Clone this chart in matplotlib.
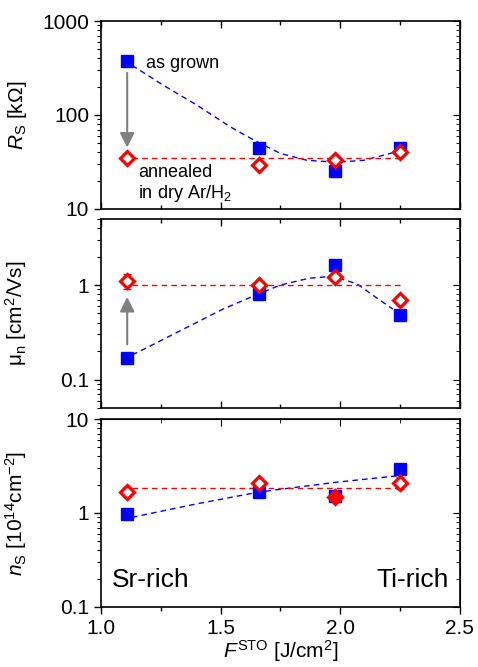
import matplotlib
matplotlib.use("Agg")
import matplotlib.pyplot as plt
from matplotlib.ticker import LogLocator, FixedLocator, NullFormatter, MultipleLocator

plt.rcParams["font.family"] = ["Liberation Sans", "DejaVu Sans"]
plt.rcParams["mathtext.fontset"] = "custom"
plt.rcParams["mathtext.rm"] = "Liberation Sans"
plt.rcParams["mathtext.it"] = "Liberation Sans:italic"

# fluence values of the four samples
fluence = [1.11, 1.66, 1.98, 2.25]

# sheet resistance [kOhm]
rs_grown = [375, 45, 25.5, 45]
rs_annealed = [35, 29.5, 33, 40.5]
rs_annealed_level = 35

# mobility [cm^2/Vs]
mu_grown = [0.17, 0.81, 1.63, 0.48]
mu_annealed = [1.1, 1.0, 1.22, 0.69]
mu_annealed_err = [0.2, 0.07, 0.08, 0.08]
mu_annealed_level = 1.0

# carrier density [1e14 cm^-2]
ns_grown = [0.97, 1.67, 1.5, 2.94]
ns_annealed = [1.67, 2.09, 1.48, 2.09]
ns_annealed_err = [0.2, 0.2, 0.12, 0.3]
ns_annealed_filled = [False, False, True, False]
ns_annealed_level = 1.85

# guide-to-the-eye curves for the as-grown series
rs_guide_x = [1.13, 1.15, 1.26, 1.40, 1.54, 1.64, 1.75, 1.86, 1.985, 2.10, 2.21, 2.25]
rs_guide_y = [335, 314, 208, 128, 75, 54, 39, 33, 31.4, 33, 39, 43]
mu_guide_x = [1.13, 1.15, 1.33, 1.51, 1.64, 1.75, 1.87, 1.97, 2.07, 2.15, 2.22]
mu_guide_y = [0.185, 0.192, 0.327, 0.556, 0.77, 1.0, 1.18, 1.24, 1.03, 0.74, 0.556]
ns_guide_x = [1.13, 1.4, 1.66, 1.98, 2.25]
ns_guide_y = [0.9, 1.25, 1.67, 2.12, 2.5]

guide_x_range = [1.13, 2.25]

BLUE = "#0000ff"
RED = "#ff0000"
DASH = (0, (4, 3))

fig = plt.figure(figsize=(4.78, 6.67), dpi=100)
left, width = 0.211, 0.751
boxes = [(0.6867, 0.2818), (0.3883, 0.2834), (0.09, 0.2818)]
axes = [fig.add_axes([left, b, width, h]) for b, h in boxes]


def style_axis(ax, ylim, labeled, bottom_out=False):
    ax.set_yscale("log")
    ax.set_ylim(*ylim)
    ax.set_xlim(1.0, 2.5)
    ax.xaxis.set_major_locator(MultipleLocator(0.5))
    ax.xaxis.set_minor_locator(MultipleLocator(0.25))
    ax.yaxis.set_major_locator(FixedLocator(labeled))
    ax.yaxis.set_minor_locator(LogLocator(base=10, subs=range(2, 10), numticks=20))
    ax.yaxis.set_minor_formatter(NullFormatter())
    ax.set_yticklabels([("%g" % v) for v in labeled])
    ax.tick_params(axis="y", which="both", left=True, right=False, direction="out",
                   labelsize=15)
    ax.tick_params(axis="y", which="major", length=5, width=1)
    ax.tick_params(axis="y", which="minor", length=3, width=0.8)
    ax.tick_params(axis="x", which="both", top=True, bottom=True, direction="in",
                   labelsize=15, width=1)
    ax.tick_params(axis="x", which="major", length=5)
    ax.tick_params(axis="x", which="minor", length=3)
    if bottom_out:
        ax.tick_params(axis="x", which="both", direction="out", top=False)
        sec = ax.secondary_xaxis("top")
        sec.xaxis.set_major_locator(MultipleLocator(0.5))
        sec.xaxis.set_minor_locator(MultipleLocator(0.25))
        sec.tick_params(which="both", direction="in", labeltop=False)
        sec.tick_params(which="major", length=5)
        sec.tick_params(which="minor", length=3)
    else:
        ax.tick_params(axis="x", labelbottom=False)
    # right-side ticks point inward
    sec_y = ax.secondary_yaxis("right")
    sec_y.set_yscale("log")
    sec_y.yaxis.set_major_locator(FixedLocator(labeled))
    sec_y.yaxis.set_minor_locator(LogLocator(base=10, subs=range(2, 10), numticks=20))
    sec_y.tick_params(which="both", direction="in", labelright=False)
    sec_y.tick_params(which="major", length=5)
    sec_y.tick_params(which="minor", length=3)
    for s in ax.spines.values():
        s.set_linewidth(1.2)


def draw_annealed(ax, y, yerr=None, filled=None):
    if yerr is not None:
        ax.errorbar(fluence, y, yerr=yerr, fmt="none", ecolor=RED, elinewidth=1,
                    capsize=3, zorder=4)
    if filled is None:
        filled = [False] * len(y)
    for xi, yi, f in zip(fluence, y, filled):
        ax.plot(xi, yi, "D", ms=7, mew=2.3, mec=RED, mfc=RED if f else "white", zorder=5)


ax1, ax2, ax3 = axes

# ---- R_S ----
style_axis(ax1, (10, 1000), [10, 100, 1000])
ax1.plot(rs_guide_x, rs_guide_y, color=BLUE, ls=DASH, lw=1)
ax1.plot(guide_x_range, [rs_annealed_level] * 2, color=RED, ls=DASH, lw=1)
ax1.plot(fluence, rs_grown, "s", color=BLUE, ms=8.5, zorder=3)
draw_annealed(ax1, rs_annealed)
ax1.annotate("", xy=(1.11, 42), xytext=(1.11, 300),
             arrowprops=dict(arrowstyle="-|>", color="gray", lw=1.5, mutation_scale=22))
ax1.text(1.19, 355, "as grown", fontsize=13, va="center", ha="left")
ax1.text(1.155, 30, "annealed\nin dry Ar/H$_2$", fontsize=13, va="top", ha="left",
         linespacing=1.1)
ax1.set_ylabel(r"$R_\mathrm{S}$ [k$\Omega$]", fontsize=15)
ax1.yaxis.set_label_coords(-0.2, 0.5)

# ---- mobility ----
style_axis(ax2, (0.05, 5), [0.1, 1])
ax2.plot(mu_guide_x, mu_guide_y, color=BLUE, ls=DASH, lw=1)
ax2.plot(guide_x_range, [mu_annealed_level] * 2, color=RED, ls=DASH, lw=1)
ax2.plot(fluence, mu_grown, "s", color=BLUE, ms=8.5, zorder=3)
draw_annealed(ax2, mu_annealed, yerr=mu_annealed_err)
ax2.annotate("", xy=(1.11, 0.8), xytext=(1.11, 0.22),
             arrowprops=dict(arrowstyle="-|>", color="gray", lw=1.5, mutation_scale=22))
ax2.set_ylabel(r"μ$_\mathrm{n}$ [cm$^2$/Vs]", fontsize=15)
ax2.yaxis.set_label_coords(-0.2, 0.5)

# ---- carrier density ----
style_axis(ax3, (0.1, 10), [0.1, 1, 10], bottom_out=True)
ax3.plot(ns_guide_x, ns_guide_y, color=BLUE, ls=DASH, lw=1)
ax3.plot(guide_x_range, [ns_annealed_level] * 2, color=RED, ls=DASH, lw=1)
ax3.plot(fluence, ns_grown, "s", color=BLUE, ms=8.5, zorder=3)
draw_annealed(ax3, ns_annealed, yerr=ns_annealed_err, filled=ns_annealed_filled)
ax3.text(1.045, 0.195, "Sr-rich", fontsize=19, va="center", ha="left")
ax3.text(2.455, 0.195, "Ti-rich", fontsize=19, va="center", ha="right")
ax3.set_ylabel(r"$n_\mathrm{S}$ [10$^{14}$cm$^{-2}$]", fontsize=15)
ax3.yaxis.set_label_coords(-0.2, 0.5)
ax3.set_xticks([1.0, 1.5, 2.0, 2.5])
ax3.set_xticklabels(["1.0", "1.5", "2.0", "2.5"])
ax3.set_xlabel(r"$F^\mathrm{STO}$ [J/cm$^2$]", fontsize=15, labelpad=0)

fig.savefig("out.png", dpi=100)
